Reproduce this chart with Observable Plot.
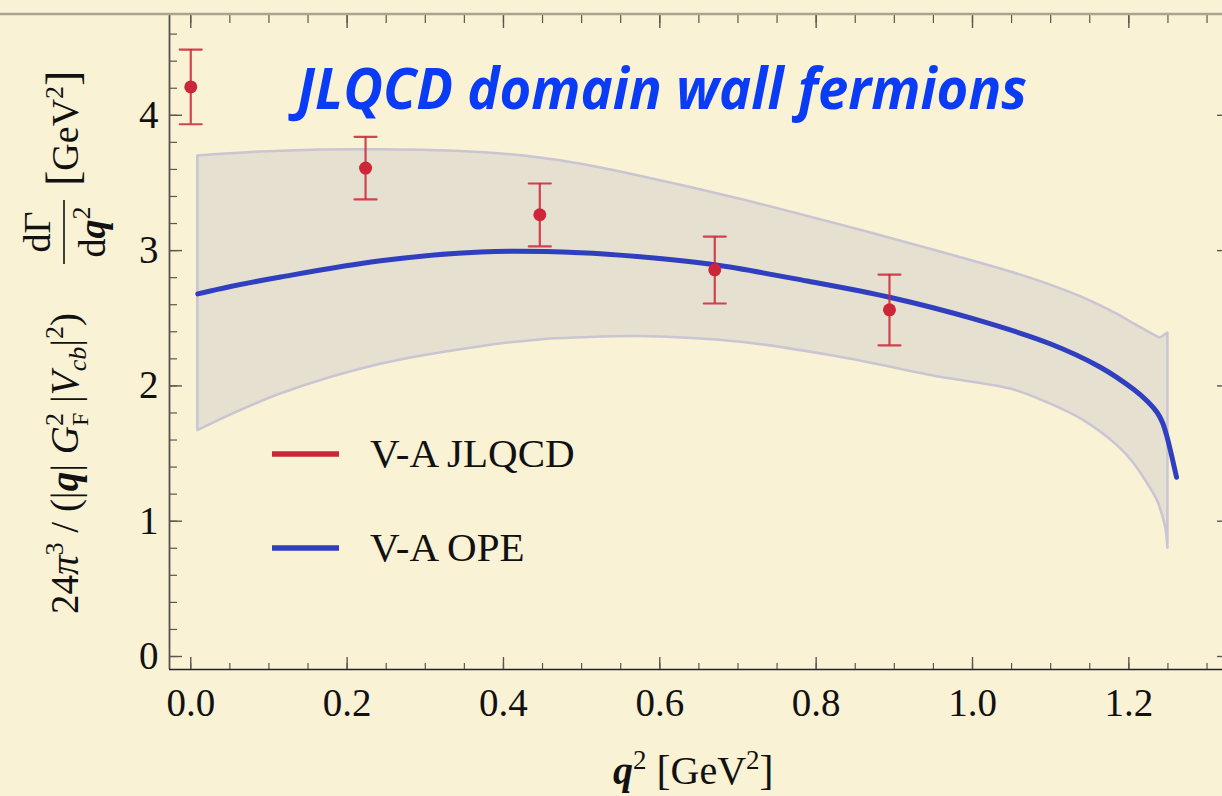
<!DOCTYPE html>
<html><head><meta charset="utf-8">
<script src="https://cdn.jsdelivr.net/npm/d3@7"></script>
<script src="https://cdn.jsdelivr.net/npm/@observablehq/plot@0.6"></script>
<style>
html,body{margin:0;padding:0;background:#faf2d5;}
#chart{width:1222px;height:796px;overflow:hidden;position:relative;}
</style></head><body><div id="chart"></div>
<script>
// ---- data ----
const latticeQ2  = [0, 0.2236, 0.4465, 0.6703, 0.8938];
const latticeVal = [4.21, 3.61, 3.265, 2.858, 2.562];
const latticeHi  = [4.486, 3.841, 3.496, 3.104, 2.823];
const latticeLo  = [3.934, 3.378, 3.031, 2.609, 2.30];

const opeQ2  = [0.009, 0.051, 0.115, 0.243, 0.371, 0.498, 0.575, 0.6703, 0.7885, 0.8938, 1.0017, 1.10, 1.163, 1.206, 1.224, 1.236, 1.243, 1.249, 1.261];
const opeVal = [2.68, 2.735, 2.805, 2.925, 2.99, 2.985, 2.955, 2.895, 2.775, 2.655, 2.495, 2.31, 2.14, 1.975, 1.885, 1.805, 1.73, 1.62, 1.325];

const bandQ2 = [0.009, 0.115, 0.243, 0.371, 0.447, 0.498, 0.575, 0.703, 0.831, 0.959, 1.05, 1.10, 1.142, 1.185, 1.206, 1.236, 1.240, 1.247, 1.25];
const bandHi = [3.70, 3.735, 3.745, 3.725, 3.685, 3.64, 3.55, 3.38, 3.19, 2.99, 2.84, 2.745, 2.65, 2.53, 2.46, 2.365, 2.355, 2.38, 2.39];
const bandLo = [1.67, 1.94, 2.16, 2.29, 2.34, 2.355, 2.365, 2.323, 2.212, 2.064, 1.975, 1.865, 1.745, 1.56, 1.43, 1.16, 1.10, 0.955, 0.80];

const xTicks = [0, 0.2, 0.4, 0.6, 0.8, 1.0, 1.2];
const yTicks = [0, 1, 2, 3, 4];
const xMinor = d3.range(0, 1.3001, 0.05);
const yMinor = d3.range(0, 4.7001, 0.2);

const titleText = "JLQCD domain wall fermions";
const legendLabels = ["V-A JLQCD", "V-A OPE"];

// ---- colours ----
const RED = "#cc2638", BLUE = "#2f3fbf";

const lattice = latticeQ2.map((q, i) => ({q, v: latticeVal[i], hi: latticeHi[i], lo: latticeLo[i]}));
const ope = opeQ2.map((q, i) => ({q, v: opeVal[i]}));
const band = bandQ2.map((q, i) => ({q, hi: bandHi[i], lo: bandLo[i]}));

const capShape = {draw(ctx, l) { ctx.moveTo(0, 0); ctx.lineTo(0, -l); }};
const tickCol = "#5b5750";
const serif = "Liberation Serif";

const plot = Plot.plot({
  width: 1222, height: 796,
  marginLeft: 169, marginRight: 0, marginTop: 14, marginBottom: 127,
  style: {background: "transparent", overflow: "visible"},
  x: {domain: [-0.0272, 1.3198], axis: null},
  y: {domain: [-0.096, 4.745], axis: null},
  marks: [
    Plot.areaY(band, {x: "q", y1: "lo", y2: "hi", curve: "catmull-rom", fill: "#e6e0d0", stroke: "#c9c5d2", strokeWidth: 2.5}),
    Plot.line(ope, {x: "q", y: "v", curve: "catmull-rom", stroke: BLUE, strokeWidth: 5}),
    Plot.ruleX(lattice, {x: "q", y1: "lo", y2: "hi", stroke: RED, strokeOpacity: 0.85, strokeWidth: 2.2}),
    Plot.vector(lattice, {x: "q", y: "hi", length: 22, rotate: 90, anchor: "middle", shape: capShape, stroke: RED, strokeOpacity: 0.85, strokeWidth: 2.2}),
    Plot.vector(lattice, {x: "q", y: "lo", length: 22, rotate: 90, anchor: "middle", shape: capShape, stroke: RED, strokeOpacity: 0.85, strokeWidth: 2.2}),
    Plot.dot(lattice, {x: "q", y: "v", r: 6.5, fill: RED}),
    // frame
    Plot.ruleX([-0.0272], {stroke: "#55524c", strokeWidth: 1.8}),
    Plot.ruleY([-0.096], {stroke: "#222", strokeWidth: 1.6}),
    // ticks (inward)
    Plot.axisX(xTicks, {anchor: "bottom", tickSize: -12, stroke: tickCol, strokeWidth: 1.4, fill: "none"}),
    Plot.axisX(xMinor, {anchor: "bottom", tickSize: -6, stroke: tickCol, strokeWidth: 1.2, fill: "none"}),
    Plot.axisX(xTicks, {anchor: "top", tickSize: -13, stroke: tickCol, strokeWidth: 1.4, fill: "none"}),
    Plot.axisX(xMinor, {anchor: "top", tickSize: -8, stroke: tickCol, strokeWidth: 1.2, fill: "none"}),
    Plot.axisY(yTicks, {anchor: "left", tickSize: -13, stroke: tickCol, strokeWidth: 1.4, fill: "none"}),
    Plot.axisY(yMinor, {anchor: "left", tickSize: -8, stroke: tickCol, strokeWidth: 1.2, fill: "none"}),
    Plot.axisY(yTicks, {anchor: "right", dx: 7, tickSize: -13, stroke: tickCol, strokeWidth: 1.4, fill: "none"}),
    Plot.axisY(yMinor, {anchor: "right", dx: 7, tickSize: -8, stroke: tickCol, strokeWidth: 1.2, fill: "none"}),
    // tick labels
    Plot.axisX(xTicks, {anchor: "bottom", tickSize: 0, tickPadding: 19, tickFormat: d3.format(".1f"), fontSize: 39, fontFamily: serif, fill: "#111", label: null}),
    Plot.axisY(yTicks, {anchor: "left", tickSize: 0, tickPadding: 11, tickFormat: d3.format("d"), fontSize: 39, fontFamily: serif, fill: "#111", label: null})
  ]
});

document.getElementById("chart").appendChild(plot);
const svg = d3.select(plot);
const layer = svg.append("g").attr("text-anchor", "start");

// top slide line / frame top
layer.append("line").attr("x1", 0).attr("x2", 1222).attr("y1", 14).attr("y2", 14)
  .attr("stroke", "#a9a48f").attr("stroke-width", 2.5);

// title
layer.append("text").attr("x", 297).attr("y", 109).attr("text-anchor", "start")
  .attr("font-family", "Open Sans").attr("font-weight", "bold").attr("font-style", "italic")
  .attr("font-size", 57).attr("fill", "#0b3cf5")
  .attr("textLength", 730).attr("lengthAdjust", "spacingAndGlyphs")
  .text(titleText);

// legend
const legendColors = [RED, BLUE];
const legendY = [454, 548];
legendLabels.forEach((lab, i) => {
  layer.append("line").attr("x1", 272).attr("x2", 339).attr("y1", legendY[i]).attr("y2", legendY[i])
    .attr("stroke", legendColors[i]).attr("stroke-width", 5.5);
  layer.append("text").attr("x", 370).attr("y", legendY[i] + 13).attr("text-anchor", "start")
    .attr("font-family", serif).attr("font-size", 41).attr("fill", "#111").text(lab);
});

// helper for rich text
function rich(sel, parts) {
  parts.forEach(p => {
    const t = sel.append("tspan").text(p.t);
    if (p.i) t.attr("font-style", "italic");
    if (p.b) t.attr("font-weight", "bold");
    if (p.s) t.attr("font-size", p.s);
    if (p.dx) t.attr("dx", p.dx);
    if (p.dy) t.attr("dy", p.dy);
  });
}

// x axis label
const xl = layer.append("text").attr("x", 613).attr("y", 784).attr("text-anchor", "start")
  .attr("font-family", serif).attr("font-size", 40).attr("fill", "#111");
rich(xl, [
  {t: "q", b: true, i: true},
  {t: "2", s: 27, dy: -15},
  {t: " ", dy: 15},
  {t: "[", s: 42},
  {t: "GeV"},
  {t: "2", s: 27, dy: -15},
  {t: "]", s: 42, dy: 15}
]);

// y axis label (rotated)
const yg = layer.append("g").attr("transform", "translate(78,614) rotate(-90)");
const ym = yg.append("text").attr("x", 0).attr("y", 0).attr("text-anchor", "start")
  .attr("font-family", serif).attr("font-size", 39).attr("fill", "#111");
rich(ym, [
  {t: "24"},
  {t: "π", i: true},
  {t: "3", s: 26, dy: -15},
  {t: " / (|", dy: 15},
  {t: "q", b: true, i: true},
  {t: "| "},
  {t: "G", i: true},
  {t: "2", s: 26, dy: -15},
  {t: "F", s: 24, dx: -13, dy: 25},
  {t: " |", dy: -10},
  {t: "V", i: true},
  {t: "cb", i: true, s: 26, dy: 8},
  {t: "|", dy: -8},
  {t: "2", s: 26, dy: -15},
  {t: ")", dy: 15}
]);
const mainLen = ym.node().getComputedTextLength();
const fx = Math.max(mainLen + 14, 350);
yg.append("text").attr("x", fx + 32).attr("y", -28).attr("text-anchor", "middle")
  .attr("font-family", serif).attr("font-size", 38).attr("fill", "#111").text("dΓ");
yg.append("line").attr("x1", fx).attr("x2", fx + 64).attr("y1", -14).attr("y2", -14)
  .attr("stroke", "#111").attr("stroke-width", 1.6);
const den = yg.append("text").attr("x", fx + 32).attr("y", 27).attr("text-anchor", "middle")
  .attr("font-family", serif).attr("font-size", 38).attr("fill", "#111");
rich(den, [{t: "d"}, {t: "q", b: true, i: true}, {t: "2", s: 26, dy: -15}]);
const gl = yg.append("text").attr("x", fx + 78).attr("y", 0).attr("text-anchor", "start")
  .attr("font-family", serif).attr("font-size", 38).attr("fill", "#111");
rich(gl, [
  {t: "[", s: 46},
  {t: "GeV"},
  {t: "2", s: 26, dy: -15},
  {t: "]", s: 46, dy: 15}
]);
</script>
</body></html>
